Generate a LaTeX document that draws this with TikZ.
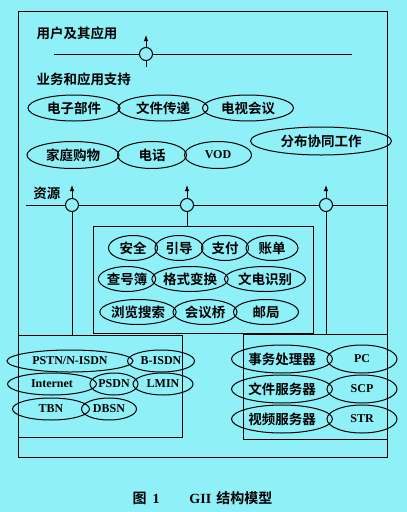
\documentclass[tikz,border=0pt]{standalone}
\usepackage{fontspec}
\setmainfont{Liberation Serif}
\newfontfamily\cjk{Noto Sans CJK SC}[BoldFont={Noto Sans CJK SC Bold}]
\usetikzlibrary{shapes.geometric,arrows.meta}
\definecolor{bgcyan}{RGB}{143,240,248}

\tikzset{
  oval/.style={ellipse,draw,inner sep=0pt,minimum height=23pt,font=\cjk\bfseries\fontsize{13.5}{15}\selectfont},
  latin/.style={font=\bfseries\fontsize{12}{13}\selectfont},
  port/.style={circle,draw,fill=bgcyan,minimum size=13pt,inner sep=0pt},
  box/.style={draw,inner sep=0pt},
  lbl/.style={anchor=west,inner sep=0pt,font=\cjk\bfseries\fontsize{13.5}{15}\selectfont},
  up/.style={-{Latex[length=6pt,width=4.5pt]}},
}

\begin{document}
\begin{tikzpicture}[x=1pt,y=-1pt,line width=1pt]
\fill[bgcyan] (0,0) rectangle (407,512);
\useasboundingbox (0,0) rectangle (407,512);
\draw (18,11) rectangle (387,457);

% users and applications
\node[lbl] (user) at (36,33) {用户及其应用};
\node[port] (pu) at (146,54) {};
\coordinate (ul) at (54,54);
\coordinate (ur) at (352,54);
\coordinate (ut) at (146,35);
\coordinate (ub) at (146,67);
\draw (ul) -- (pu.west);
\draw (pu.east) -- (ur);
\draw (pu.south) -- (ub);
\draw[up] (pu.north) -- (ut);

% services
\node[lbl] (serv) at (36,79) {业务和应用支持};
\node[oval,minimum width=92pt,minimum height=26pt] (mail) at (74,108) {电子部件};
\node[oval,minimum width=90pt,minimum height=26pt] (ftp) at (163,108) {文件传递};
\node[oval,minimum width=91pt,minimum height=26pt] (vconf) at (248,108) {电视会议};
\node[oval,minimum width=92pt,minimum height=27pt] (shop) at (73,155) {家庭购物};
\node[oval,minimum width=69pt,minimum height=27pt] (tel) at (152,155) {电话};
\node[oval,latin,minimum width=67pt,minimum height=27pt] (vod) at (218,155) {VOD};
\node[oval,minimum width=141pt,minimum height=28pt] (cscw) at (321,141) {分布协同工作};

% resources
\node[lbl] (res) at (33,193) {资源};
\node[port] (r1) at (72,205) {};
\node[port] (r2) at (187,205) {};
\node[port] (r3) at (326,205) {};
\coordinate (rl) at (26,205);
\coordinate (rr) at (387,205);
\draw (rl) -- (r1.west);
\draw (r1.east) -- (r2.west);
\draw (r2.east) -- (r3.west);
\draw (r3.east) -- (rr);
\foreach \p in {r1,r2,r3}
  \draw[up] (\p.north) -- ++(0,-13);

% middle box
\node[box,minimum width=220pt,minimum height=107pt] (mid) at (203,279.5) {};
\node[oval,minimum width=49pt,minimum height=25pt] (sec) at (133,248) {安全};
\node[oval,minimum width=48pt,minimum height=25pt] (guide) at (179,248) {引导};
\node[oval,minimum width=47pt,minimum height=25pt] (pay) at (225,248) {支付};
\node[oval,minimum width=52pt,minimum height=25pt] (bill) at (272,248) {账单};
\node[oval,minimum width=57pt,minimum height=25pt] (dir) at (127,279) {查号簿};
\node[oval,minimum width=73pt,minimum height=25pt] (conv) at (190,279) {格式变换};
\node[oval,minimum width=81pt,minimum height=25pt] (recog) at (265,279) {文电识别};
\node[oval,minimum width=73pt,minimum height=25pt] (brow) at (138,312) {浏览搜索};
\node[oval,minimum width=64pt,minimum height=25pt] (bridge) at (205,312) {会议桥};
\node[oval,minimum width=65pt,minimum height=25pt] (post) at (266,312) {邮局};

% left box: networks
\node[box,minimum width=164pt,minimum height=102pt] (net) at (100,386) {};
\node[oval,latin,minimum width=126pt,minimum height=22pt] (pstn) at (70,361) {PSTN/N-ISDN};
\node[oval,latin,minimum width=67pt,minimum height=22pt] (bisdn) at (161,361) {B-ISDN};
\node[oval,latin,minimum width=89pt,minimum height=22pt] (inet) at (52,384) {Internet};
\node[oval,latin,minimum width=48pt,minimum height=22pt] (psdn) at (114,384) {PSDN};
\node[oval,latin,minimum width=60pt,minimum height=22pt] (lmin) at (163,384) {LMIN};
\node[oval,latin,minimum width=77pt,minimum height=22pt] (tbn) at (51,409) {TBN};
\node[oval,latin,minimum width=55pt,minimum height=22pt] (dbsn) at (109,409) {DBSN};

% right box: devices
\node[box,minimum width=144pt,minimum height=105pt] (dev) at (315,386.5) {};
\node[oval,minimum width=101pt,minimum height=28pt] (tp) at (282,359) {事务处理器};
\node[oval,latin,minimum width=70pt,minimum height=28pt] (pc) at (362,359) {PC};
\node[oval,minimum width=101pt,minimum height=28pt] (fs) at (282,389) {文件服务器};
\node[oval,latin,minimum width=70pt,minimum height=28pt] (scp) at (362,389) {SCP};
\node[oval,minimum width=101pt,minimum height=28pt] (vs) at (282,419) {视频服务器};
\node[oval,latin,minimum width=70pt,minimum height=28pt] (str) at (362,419) {STR};

\draw (r1.south) -- (r1.south |- net.north);
\draw (r2.south) -- (r2.south |- mid.north);
\draw (r3.south) -- (r3.south |- dev.north);

% caption
\node[anchor=west,inner sep=0pt,font=\fontsize{14}{16}\selectfont] (cap) at (132,498)
  {{\cjk\bfseries 图}\hspace{6pt}\textbf{1}\hspace{30pt}\textbf{GII}\hspace{5pt}{\cjk\bfseries 结构模型}};
\end{tikzpicture}
\end{document}
